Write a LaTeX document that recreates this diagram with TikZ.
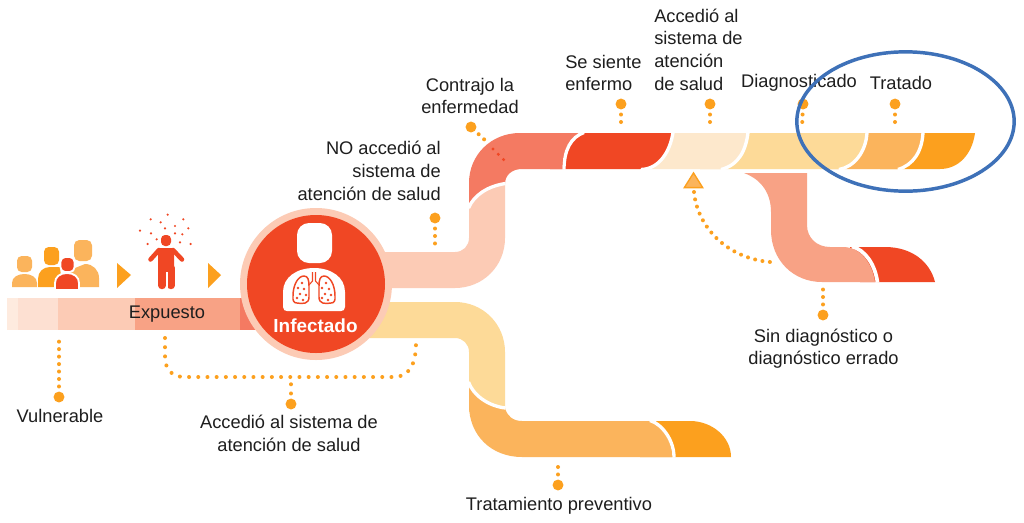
\documentclass[tikz,border=0pt]{standalone}
\usepackage{fontspec}
\setmainfont{Liberation Sans}
\usetikzlibrary{shapes.geometric}
\definecolor{cRed}{HTML}{F04724}
\definecolor{cCoral}{HTML}{F47A62}
\definecolor{cSalmon}{HTML}{F8A285}
\definecolor{cPink}{HTML}{FCCBB5}
\definecolor{cPale}{HTML}{FDE0D2}
\definecolor{cPaler}{HTML}{FEEBDF}
\definecolor{cCream}{HTML}{FDE8CC}
\definecolor{cYellow}{HTML}{FDDA98}
\definecolor{cLight}{HTML}{FBB45C}
\definecolor{cOrange}{HTML}{FCA01E}
\definecolor{cBlue}{HTML}{3E71B8}
\definecolor{cText}{HTML}{1E1E1E}
\tikzset{
  lbl/.style={text=cText,inner sep=0pt,font=\fontsize{13.7}{17}\selectfont},
  bigdot/.style={circle,fill=cOrange,inner sep=0pt,minimum size=8.2pt},
  dotline/.style={cOrange,line width=3pt,line cap=round,dash pattern=on 0pt off 5.6pt},
  dotwide/.style={cOrange,line width=3pt,line cap=round,dash pattern=on 0pt off 6.9pt},
  dotred/.style={cRed,line width=2.6pt,line cap=round,dash pattern=on 0pt off 5.6pt},
  fromdot/.style={shorten <=3.6pt},
  gap/.style={white,line width=2.5pt},
  speck/.style={cRed},
}
\begin{document}
\begin{tikzpicture}[x=0.75pt,y=-0.75pt]
\useasboundingbox (0,0) rectangle (1024,522);
\fill[white] (0,0) rectangle (1024,522);
% left bar
\fill[cCoral] (230,298) rectangle (300,330);
\fill[cSalmon] (135,298) rectangle (240,330);
\fill[cPink] (58,298) rectangle (135,330);
\fill[cPale] (18,298) rectangle (58,330);
\fill[cPaler] (7,298) rectangle (18,330);
% upper band
\fill[cPink] (340,252) -- (455,252) .. controls (463,252) and (469,246) .. (469,238) -- (469,195) -- (505,175) -- (505,238) .. controls (505,266) and (483,288) .. (455,288) -- (340,288) -- cycle;
% lower band
\fill[cYellow] (340,302) -- (455,302) .. controls (483,302) and (505,324) .. (505,352) -- (505,412) -- (469,412) -- (469,352) .. controls (469,344) and (463,338) .. (455,338) -- (340,338) -- cycle;
% lower end pieces
\fill[cOrange] (640,421) -- (690,421) .. controls (712,421) and (731,437) .. (731,457) -- (640,457) -- cycle;
\fill[cLight] (469,383) -- (469,405) .. controls (469,435) and (491,457) .. (522,457) -- (672,457) .. controls (672,440) and (660,424) .. (649,421) -- (522,421) .. controls (513,421) and (507,416) .. (505,408) .. controls (488,406) and (473,395) .. (469,383) -- cycle;
\draw[gap] (674,457.5) .. controls (674,440) and (662,424) .. (650,420.5);
\draw[gap] (505.5,408) .. controls (488,406) and (473,395) .. (468.5,382);
% salmon branch
\fill[cRed] (850,247) -- (885,247) .. controls (912,247) and (930,262) .. (935,282) -- (860,282) -- cycle;
\fill[cSalmon] (744,173) -- (807,173) -- (807,225) .. controls (807,238) and (817,247) .. (830,247) -- (845,247) .. controls (860,248) and (872,262) .. (875,282) -- (822,282) .. controls (793,282) and (771,260) .. (771,230) -- (771,212) .. controls (771,190) and (758,178) .. (744,173) -- cycle;
\draw[gap,line width=2.8pt] (852,246.5) .. controls (865,250) and (875,264) .. (877.5,282.5);
% top band, right to left
\fill[cOrange] (880,133) -- (975,133) .. controls (972,155) and (958,169) .. (940,169) -- (880,169) -- cycle;
\fill[cLight] (830,133) -- (922,133) .. controls (921,152) and (912,165) .. (897,169) -- (830,169) -- cycle;
\draw[gap] (923,132.5) .. controls (922,152) and (913,165) .. (898,169.5);
\fill[cYellow] (700,133) -- (866,133) .. controls (865,152) and (853,167) .. (838,169) -- (700,169) -- cycle;
\draw[gap] (867,132.5) .. controls (866,152) and (854,167) .. (839,169.5);
\fill[cCream] (630,133) -- (747,133) .. controls (745,150) and (738,165) .. (720,169) -- (630,169) -- cycle;
\draw[gap] (748,132.5) .. controls (746,150) and (739,165) .. (721,169.5);
\fill[cRed] (550,133) -- (672,133) .. controls (669,152) and (658,169) .. (640,169) -- (550,169) -- cycle;
\draw[gap] (673,132.5) .. controls (670,152) and (659,169) .. (641,169.5);
\fill[cCoral] (469,207) -- (469,183) .. controls (469,155) and (491,133) .. (520,133) -- (581,133) .. controls (570,137) and (562,150) .. (562,169) -- (522,169) .. controls (512,169) and (505,175) .. (505,184) .. controls (488,186) and (474,195) .. (469,207) -- cycle;
\draw[gap] (584,132.5) .. controls (571,137) and (564,150) .. (564,169.5);
\draw[gap] (505.5,183.5) .. controls (488,186) and (474,195) .. (468.5,208);
% circle
\node[circle,fill=cPink,inner sep=0pt,minimum size=114pt] (ring) at (316,284) {};
\node[circle,fill=cRed,inner sep=0pt,minimum size=103.5pt] (core) at (316,284) {};
% circle icon
\fill[white,rounded corners=9pt] (297,223) rectangle (332,263);
\fill[white] (283,307) -- (283,292) .. controls (283,277) and (297,268) .. (314,268) .. controls (331,268) and (345,277) .. (345,292) -- (345,307) .. controls (345,310) and (343,311) .. (341,311) -- (287,311) .. controls (285,311) and (283,310) .. (283,307) -- cycle;
\draw[cRed,line width=1.1pt,line join=round] (309,286) -- (309,297) .. controls (309,304) and (303,304) .. (297,303) .. controls (294,303) and (292.5,301) .. (293,296) .. controls (293,285) and (298,276) .. (304,276) .. controls (308,276) and (309,280) .. (309,286) -- cycle;
\draw[cRed,line width=1.1pt,line join=round] (319,286) -- (319,297) .. controls (319,304) and (325,304) .. (331,303) .. controls (334,303) and (335.5,301) .. (335,296) .. controls (335,285) and (330,276) .. (324,276) .. controls (320,276) and (319,280) .. (319,286) -- cycle;
\draw[cRed,line width=0.8pt] (312.5,272) -- (312.5,281) -- (309,285) (315.5,272) -- (315.5,281) -- (319,285);
\foreach \px/\py in {302/283,298/288,304/289,300/294,306/295,297/298,303/300,326/283,322/288,329/289,325/294,331/295,322/298,328/300}
  \fill[speck] (\px,\py) circle (1.4);
\node[font=\fontsize{14.2}{16}\bfseries\selectfont,text=white,inner sep=0pt] (inf) at (315.5,326) {Infectado};
% people
\fill[cLight,rounded corners=4pt] (74,240) rectangle (92,261);
\fill[cLight] (70,287) -- (70,270) -- (85,264) .. controls (93,264) and (99,270) .. (99,278) -- (99,287) -- cycle;
\fill[cOrange,rounded corners=3.5pt] (44,247) rectangle (59,265);
\fill[cOrange] (38,287) -- (38,279) .. controls (38,272) and (43,267) .. (50,267) -- (60,267) -- (62,287) -- cycle;
\fill[cLight,rounded corners=3.5pt] (17,256) rectangle (32,272);
\fill[cLight] (12,287) -- (12,283) .. controls (12,277) and (18,274) .. (24.5,274) .. controls (31,274) and (37,277) .. (37,283) -- (37,287) -- cycle;
\draw[fill=cRed,draw=white,line width=1.4pt,rounded corners=3.5pt] (60.5,257) rectangle (74.5,272);
\draw[fill=cRed,draw=white,line width=1.4pt] (55,290) -- (55,283) .. controls (55,277) and (60,273) .. (67,273) .. controls (74,273) and (79,277) .. (79,283) -- (79,290) -- cycle;
% triangles
\fill[cOrange] (117,263) -- (131,275) -- (117,288) -- cycle;
\fill[cOrange] (208,263) -- (221,275) -- (208,288) -- cycle;
% exposed man
\fill[cRed,rounded corners=3pt] (161,235) rectangle (171,246);
\fill[cRed,rounded corners=1.5pt] (158,248) rectangle (174,272);
\draw[cRed,line width=3.4pt,line cap=round,line join=round] (150.5,259.5) -- (159,250) (182,259.5) -- (173,250);
\draw[cRed,line width=5.6pt,line cap=round] (162,268) -- (162,285.5) (171,268) -- (171,285.5);
\fill[white] (165.7,272) rectangle (167.7,290);
\foreach \px/\py in {503/44,452/58,550/58,482/67,525/78,565/85,495/85,420/92,453/100,525/100,547/103,470/118,540/127,443/132,572/132}
  \fill[speck] ({\px/3},{200+\py/3}) circle (1.2);
% dotted connectors
\node[bigdot] (dVul) at (59,397) {};
\coordinate (eVul) at (59,335);
\draw[dotline,fromdot] (dVul) -- (eVul);
\coordinate (eExp) at (165,338);
\coordinate (eAcc) at (416,343);
\draw[dotwide] (eExp) -- (165,356) .. controls (165,370) and (172,377) .. (185,377) -- (394,377) .. controls (408,377) and (416,366) .. (eAcc);
\node[bigdot] (dAcc) at (291,404) {};
\coordinate (jAcc) at (291,380);
\draw[dotwide,fromdot] (dAcc) -- (jAcc);
\node[bigdot] (dNo) at (435,218) {};
\coordinate (eNo) at (435,250);
\draw[dotline,fromdot] (dNo) -- (eNo);
\node[bigdot] (dCon) at (471,127) {};
\coordinate (mCon) at (488,143);
\coordinate (eCon) at (504,160);
\draw[dotline,fromdot] (dCon) -- (mCon);
\draw[dotred] (493,149) -- (eCon);
\node[bigdot] (dSe) at (621,104) {};
\coordinate (eSe) at (621,128);
\draw[dotline,fromdot] (dSe) -- (eSe);
\node[bigdot] (dSis) at (710,104) {};
\coordinate (eSis) at (710,128);
\draw[dotline,fromdot] (dSis) -- (eSis);
\node[bigdot] (dDia) at (803,104) {};
\coordinate (eDia) at (802,128);
\draw[dotline,fromdot] (dDia) -- (eDia);
\node[bigdot] (dTra) at (895,104) {};
\coordinate (eTra) at (895,128);
\draw[dotline,fromdot] (dTra) -- (eTra);
\node[bigdot] (dPre) at (558,485) {};
\coordinate (ePre) at (558,461);
\draw[dotline,fromdot] (dPre) -- (ePre);
\node[bigdot] (dSin) at (823,315) {};
\coordinate (eSin) at (823,283);
\draw[dotline,fromdot] (dSin) -- (eSin);
% triangle marker and its dotted line
\node[isosceles triangle,isosceles triangle apex angle=64,shape border rotate=90,draw=cOrange,fill=cLight,line width=1pt,inner sep=0pt,minimum height=11pt,minimum width=13pt] (tri) at (693.5,182.5) {};
\coordinate (eTri) at (770,262);
\draw[dotline] (694,192) .. controls (697,225) and (725,258) .. (eTri);
% labels
\node[lbl] (tVul) at (60,416) {Vulnerable};
\node[lbl] (tExp) at (167,314) {Expuesto};
\node[lbl,align=center] (tAcc) at (289,433.5) {Accedió al sistema de\\atención de salud};
\node[lbl,align=right,anchor=east] (tNo) at (441,171) {NO accedió al\\sistema de\\atención de salud};
\node[lbl,align=center] (tCon) at (470,96) {Contrajo la\\enfermedad};
\node[lbl,align=left,anchor=west] (tSe) at (565,73) {Se siente\\enfermo};
\node[lbl,align=left,anchor=west] (tSis) at (654,49.5) {Accedió al\\sistema de\\atención\\de salud};
\node[lbl] (tDia) at (799,83) {Diagnosticado};
\node[lbl] (tTra) at (901,82.5) {Tratado};
\node[lbl,align=center] (tSin) at (823.5,348.5) {Sin diagnóstico o\\diagnóstico errado};
\node[lbl] (tPre) at (559,506) {Tratamiento preventivo};
% highlight ellipse
\node[ellipse,draw=cBlue,line width=2.6pt,inner sep=0pt,minimum width=163pt,minimum height=104.5pt] (hl) at (905.5,121.5) {};
\end{tikzpicture}
\end{document}
